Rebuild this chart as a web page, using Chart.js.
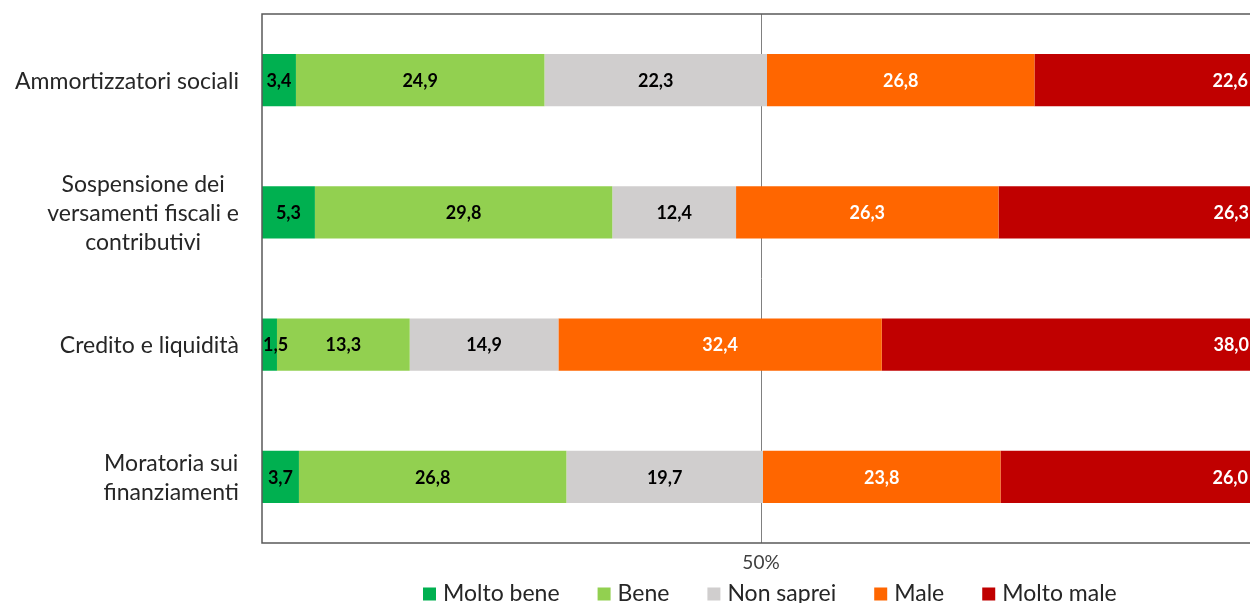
<!DOCTYPE html>
<html>
<head>
<meta charset="utf-8">
<script src="https://cdn.jsdelivr.net/npm/chart.js@4.4.1/dist/chart.umd.min.js"></script>
<style>
html,body{margin:0;padding:0;background:#fff;overflow:hidden;width:1250px;height:603px;}
#wrap{position:relative;width:1268px;height:603px;}
</style>
</head>
<body>
<div id="wrap"><canvas id="c"></canvas></div>
<script>
const categories = [
  ["Ammortizzatori sociali"],
  ["Sospensione dei", "versamenti fiscali e", "contributivi"],
  ["Credito e liquidità"],
  ["Moratoria sui", "finanziamenti"]
];
const seriesNames = ["Molto bene", "Bene", "Non saprei", "Male", "Molto male"];
const moltoBene = [3.4, 5.3, 1.5, 3.7];
const bene = [24.9, 29.8, 13.3, 26.8];
const nonSaprei = [22.3, 12.4, 14.9, 19.7];
const male = [26.8, 26.3, 32.4, 23.8];
const moltoMale = [22.6, 26.3, 38.0, 26.0];
const xTicks = [50];
const xTickLabels = ["50%"];

const colors = ["#00B050", "#92D050", "#D0CECE", "#FF6600", "#C00000"];
const labelColors = ["#000000", "#000000", "#000000", "#FFFFFF", "#FFFFFF"];
const FONT = "Lato, 'Liberation Sans', sans-serif";
const TEXT = "#262626";

const seriesValues = [moltoBene, bene, nonSaprei, male, moltoMale];
const datasets = seriesValues.map((vals, i) => ({
  label: seriesNames[i],
  data: vals,
  backgroundColor: colors[i],
  borderWidth: 0,
  categoryPercentage: 1,
  barPercentage: 0.395
}));

const framePlugin = {
  id: 'frame',
  afterDraw(chart) {
    const {ctx, chartArea: a} = chart;
    ctx.save();
    ctx.strokeStyle = '#595959';
    ctx.lineWidth = 1.5;
    ctx.beginPath();
    ctx.moveTo(chart.width, a.top);
    ctx.lineTo(a.left, a.top);
    ctx.lineTo(a.left, a.bottom);
    ctx.lineTo(chart.width, a.bottom);
    ctx.stroke();
    ctx.restore();
  }
};

const yLabelPlugin = {
  id: 'ylabels',
  afterDraw(chart) {
    const {ctx} = chart;
    const ys = chart.scales.y;
    const right = chart.chartArea.left - 23;
    const lh = 29;
    ctx.save();
    ctx.font = "23px " + FONT;
    ctx.fillStyle = TEXT;
    ctx.textBaseline = 'middle';
    ctx.textAlign = 'center';
    categories.forEach((lines, i) => {
      const cy = ys.getPixelForValue(i) + 1;
      const w = Math.max(...lines.map(l => ctx.measureText(l).width));
      const cx = right - w / 2;
      const y0 = cy - (lines.length - 1) * lh / 2;
      lines.forEach((l, k) => ctx.fillText(l, cx, y0 + k * lh));
    });
    ctx.restore();
  }
};

const valueLabelPlugin = {
  id: 'vlabels',
  afterDatasetsDraw(chart) {
    const {ctx, chartArea} = chart;
    ctx.save();
    ctx.font = "bold 18px " + FONT;
    ctx.textBaseline = 'middle';
    chart.data.datasets.forEach((ds, i) => {
      const meta = chart.getDatasetMeta(i);
      meta.data.forEach((bar, j) => {
        const txt = ds.data[j].toFixed(1).replace('.', ',');
        ctx.fillStyle = labelColors[i];
        if (i === chart.data.datasets.length - 1) {
          ctx.textAlign = 'right';
          ctx.fillText(txt, bar.x - 12, bar.y + 1);
        } else {
          const w = ctx.measureText(txt).width;
          let cx = (bar.x + bar.base) / 2;
          cx = Math.max(cx, chartArea.left + 1 + w / 2);
          ctx.textAlign = 'center';
          ctx.fillText(txt, cx, bar.y + 1);
        }
      });
    });
    ctx.restore();
  }
};

const legendPlugin = {
  id: 'customLegend',
  afterDraw(chart) {
    const {ctx} = chart;
    ctx.save();
    ctx.font = "23px " + FONT;
    ctx.textBaseline = 'middle';
    ctx.textAlign = 'left';
    let x = 423;
    const cy = 594;
    const box = 13;
    chart.data.datasets.forEach((ds) => {
      ctx.fillStyle = ds.backgroundColor;
      ctx.fillRect(x, cy - box / 2, box, box);
      x += box + 7;
      ctx.fillStyle = TEXT;
      ctx.fillText(ds.label, x, cy);
      x += ctx.measureText(ds.label).width + 38;
    });
    ctx.restore();
  }
};

new Chart(document.getElementById('c'), {
  type: 'bar',
  data: { labels: categories.map(c => c.join(' ')), datasets },
  options: {
    indexAxis: 'y',
    responsive: true,
    maintainAspectRatio: false,
    animation: false,
    layout: { padding: { top: 14, right: 8, left: 0, bottom: 0 } },
    plugins: {
      tooltip: { enabled: false },
      legend: { display: false }
    },
    scales: {
      x: {
        stacked: true,
        min: 0,
        max: 100,
        afterBuildTicks(scale) { scale.ticks = xTicks.map(v => ({ value: v })); },
        afterFit(scale) { scale.height = 60; },
        ticks: {
          callback: (v) => xTickLabels[xTicks.indexOf(v)],
          font: { family: FONT, size: 19 },
          color: '#404040',
          padding: 8,
          maxRotation: 0
        },
        grid: { color: '#808080', lineWidth: 1, drawTicks: false },
        border: { display: false }
      },
      y: {
        stacked: true,
        afterFit(scale) { scale.width = 262; },
        ticks: { display: false },
        grid: { display: false },
        border: { display: false }
      }
    }
  },
  plugins: [framePlugin, yLabelPlugin, valueLabelPlugin, legendPlugin]
});
</script>
</body>
</html>
